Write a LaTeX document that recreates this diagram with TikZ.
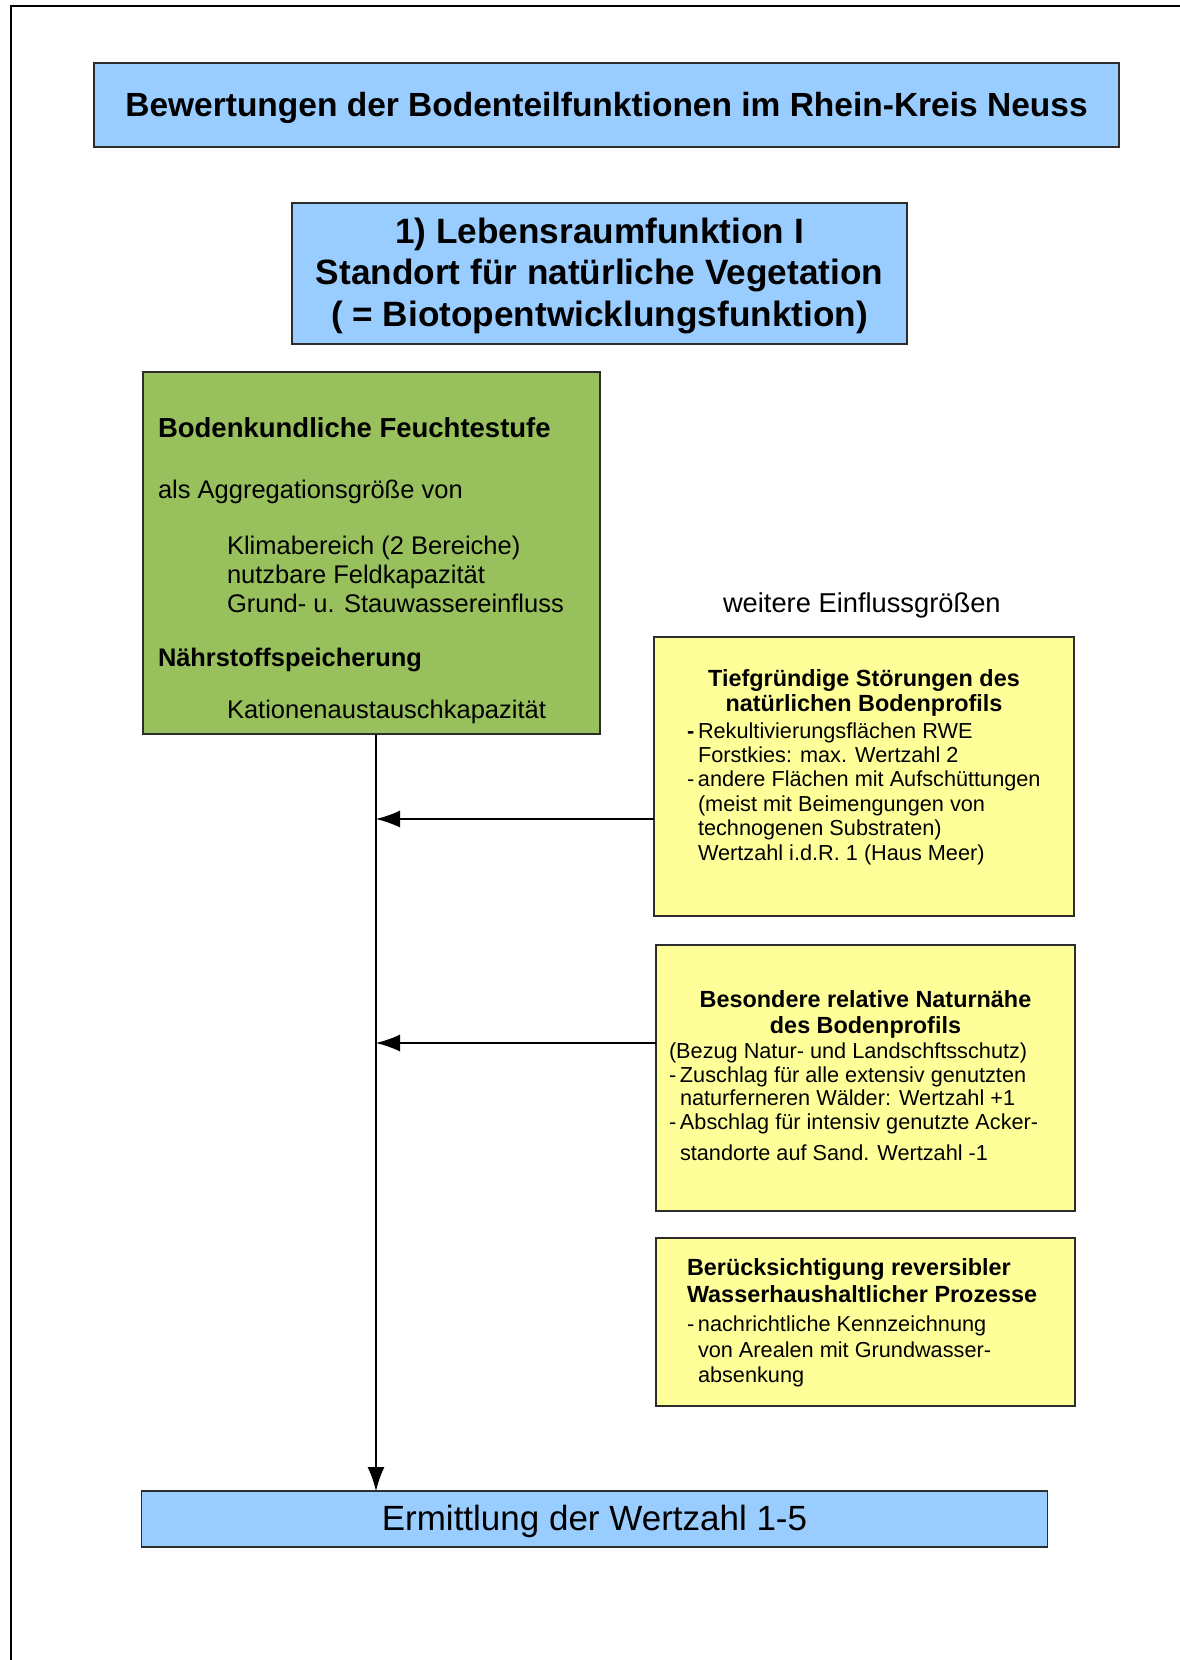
\documentclass[tikz,border=0pt]{standalone}
\usepackage{fontspec}
\setmainfont{Liberation Sans}
\usetikzlibrary{arrows.meta}
\definecolor{boxblue}{RGB}{153,204,255}
\definecolor{boxgreen}{RGB}{152,192,92}
\definecolor{boxyellow}{RGB}{255,255,153}
\definecolor{edgegray}{RGB}{45,45,45}
\begin{document}
\begin{tikzpicture}[x=1pt,y=-1pt,
  box/.style={draw=edgegray, line width=1.3pt, anchor=north west, inner sep=0pt, outer sep=0pt},
  txt/.style={inner sep=0pt, outer sep=0pt, text=black, anchor=base west},
  ctxt/.style={inner sep=0pt, outer sep=0pt, text=black, anchor=base},
  titlefont/.style={font=\fontsize{33.5}{40}\selectfont\bfseries},
  headfont/.style={font=\fontsize{35.2}{42}\selectfont\bfseries},
  gbold/.style={font=\fontsize{27.5}{32}\selectfont\bfseries},
  gboldb/.style={font=\fontsize{25.4}{30}\selectfont\bfseries},
  greg/.style={font=\fontsize{25.5}{29}\selectfont},
  ybold/.style={font=\fontsize{23.4}{26}\selectfont\bfseries},
  yreg/.style={font=\fontsize{21.7}{24.5}\selectfont},
  bigreg/.style={font=\fontsize{35}{42}\selectfont},
  midreg/.style={font=\fontsize{27.3}{30}\selectfont},
  arr/.style={draw=black, line width=1.3pt, -{Latex[length=24pt,width=17pt]}}
  ]
\useasboundingbox (0,0) rectangle (1180,1660);
\fill[white] (0,0) rectangle (1180,1660);
% outer frame (left and top edges)
\draw[line width=2.2pt] (11,1660) -- (11,6) -- (1180,6);

% boxes
\node[box, fill=boxblue, minimum width=1025pt, minimum height=84pt] (title) at (94,63) {};
\node[box, fill=boxblue, minimum width=615pt, minimum height=141pt] (head) at (292,203) {};
\node[box, fill=boxgreen, minimum width=457pt, minimum height=362pt] (green) at (143,372) {};
\node[box, fill=boxyellow, minimum width=420pt, minimum height=279pt] (yone) at (654,637) {};
\node[box, fill=boxyellow, minimum width=419pt, minimum height=266pt] (ytwo) at (656,945) {};
\node[box, fill=boxyellow, minimum width=419pt, minimum height=168pt] (ythree) at (656,1238) {};
\node[box, fill=boxblue, minimum width=906pt, minimum height=56pt] (final) at (141.5,1491) {};

% title
\node[ctxt, titlefont] (titletext) at (606.5,116) {Bewertungen der Bodenteilfunktionen im Rhein-Kreis Neuss};

% head box
\node[ctxt, headfont] (h1) at (599.5,243) {1) Lebensraumfunktion I};
\node[ctxt, headfont] (h2) at (599.5,284.5) {Standort für natürliche Vegetation};
\node[ctxt, headfont] (h3) at (599.5,326) {( = Biotopentwicklungsfunktion)};

% green box
\node[txt, gbold] (g1) at (158,437) {Bodenkundliche Feuchtestufe};
\node[txt, greg] (g2) at (158,498) {als Aggregationsgröße von};
\node[txt, greg] (g3) at (227,554) {Klimabereich (2 Bereiche)};
\node[txt, greg] (g4) at (227,583) {nutzbare Feldkapazität};
\node[txt, greg] (g5) at (227,612) {Grund- u. Stauwassereinfluss};
\node[txt, gboldb] (g6) at (158,666) {Nährstoffspeicherung};
\node[txt, greg] (g7) at (227,718) {Kationenaustauschkapazität};

% further factors label
\node[txt, midreg] (further) at (723,612) {weitere Einflussgrößen};

% yellow box 1
\node[ctxt, ybold] (a1) at (864,686) {Tiefgründige Störungen des};
\node[ctxt, ybold] (a2) at (864,711.5) {natürlichen Bodenprofils};
\node[txt, yreg] (a3) at (687,738) {\makebox[11pt][l]{\textbf{-}}Rekultivierungsflächen RWE};
\node[txt, yreg] (a4) at (698,762.5) {Forstkies: max. Wertzahl 2};
\node[txt, yreg] (a5) at (687,786.5) {\makebox[11pt][l]{-}andere Flächen mit Aufschüttungen};
\node[txt, yreg] (a6) at (698,811) {(meist mit Beimengungen von};
\node[txt, yreg] (a7) at (698,835) {technogenen Substraten)};
\node[txt, yreg] (a8) at (698,860) {Wertzahl i.d.R. 1 (Haus Meer)};

% yellow box 2
\node[ctxt, ybold] (b1) at (865.5,1007) {Besondere relative Naturnähe};
\node[ctxt, ybold] (b2) at (865.5,1033) {des Bodenprofils};
\node[txt, yreg] (b3) at (669,1058) {(Bezug Natur- und Landschftsschutz)};
\node[txt, yreg] (b4) at (669,1082) {\makebox[11pt][l]{-}Zuschlag für alle extensiv genutzten};
\node[txt, yreg] (b5) at (680,1105) {naturferneren Wälder: Wertzahl +1};
\node[txt, yreg] (b6) at (669,1129) {\makebox[11pt][l]{-}Abschlag für intensiv genutzte Acker-};
\node[txt, yreg] (b7) at (680,1160) {standorte auf Sand. Wertzahl -1};

% yellow box 3
\node[txt, ybold] (c1) at (687,1275) {Berücksichtigung reversibler};
\node[txt, ybold] (c2) at (687,1302) {Wasserhaushaltlicher Prozesse};
\node[txt, yreg] (c3) at (687,1331) {\makebox[11pt][l]{-}nachrichtliche Kennzeichnung};
\node[txt, yreg] (c4) at (698,1357) {von Arealen mit Grundwasser-};
\node[txt, yreg] (c5) at (698,1382) {absenkung};

% final box
\node[ctxt, bigreg] (finaltext) at (594.5,1530) {Ermittlung der Wertzahl 1-5};

% connectors
\coordinate (trunk) at (376,0);
\coordinate (levone) at (0,819);
\coordinate (levtwo) at (0,1043);
\draw[arr] (green.south -| trunk) -- (final.north -| trunk);
\draw[arr] (yone.west |- levone) -- (trunk |- levone);
\draw[arr] (ytwo.west |- levtwo) -- (trunk |- levtwo);
\end{tikzpicture}
\end{document}
